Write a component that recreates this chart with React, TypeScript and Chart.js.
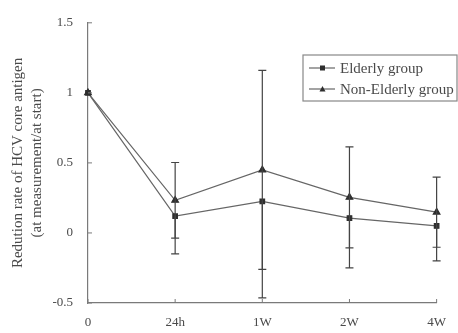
import React, { useEffect, useRef } from "react";
import { Chart, registerables } from "chart.js";

Chart.register(...registerables);

const categories = ["0", "24h", "1W", "2W", "4W"];
const elderly = [1, 0.12, 0.226, 0.106, 0.05];
const elderlyErr = [0, 0.27, 0.69, 0.355, 0.25];
const nonElderly = [1, 0.233, 0.45, 0.254, 0.148];
const nonElderlyErr = [0, 0.27, 0.71, 0.36, 0.25];
const yTicks = [-0.5, 0, 0.5, 1, 1.5];
const yTitle = ["Redution rate of HCV core antigen", "(at measurement/at start)"];
const legendLabels = ["Elderly group", "Non-Elderly group"];

const AXIS = "#7a7a7a";
const LINE = "#666";
const MARK = "#2e2e2e";
const TEXT = "#4a4a4a";
const FONT = "'Liberation Serif', 'DejaVu Serif', serif";

const errors = [elderlyErr, nonElderlyErr];
const showUpper = [false, true];
const showLower = [true, true];

const extrasPlugin = {
  id: "extras",
  afterDatasetsDraw(chart: any) {
    const ctx = chart.ctx;
    const xs = chart.scales.x;
    const ys = chart.scales.y;
    const area = chart.chartArea;
    ctx.save();
    // error bars
    ctx.strokeStyle = "#444";
    ctx.lineWidth = 1.2;
    chart.data.datasets.forEach((ds: any, di: number) => {
      ds.data.forEach((v: number, i: number) => {
        const e = errors[di][i];
        if (!e) return;
        const x = xs.getPixelForValue(i);
        const yc = ys.getPixelForValue(v);
        const yt = ys.getPixelForValue(v + e);
        const yb = ys.getPixelForValue(v - e);
        ctx.beginPath();
        if (showUpper[di]) {
          ctx.moveTo(x, yc);
          ctx.lineTo(x, yt);
          ctx.moveTo(x - 4, yt);
          ctx.lineTo(x + 4, yt);
        }
        if (showLower[di]) {
          ctx.moveTo(x, yc);
          ctx.lineTo(x, yb);
          ctx.moveTo(x - 4, yb);
          ctx.lineTo(x + 4, yb);
        }
        ctx.stroke();
      });
    });
    // inward ticks
    ctx.strokeStyle = AXIS;
    ctx.lineWidth = 1;
    yTicks.forEach((t) => {
      const y = ys.getPixelForValue(t);
      ctx.beginPath();
      ctx.moveTo(area.left, y);
      ctx.lineTo(area.left + 4, y);
      ctx.stroke();
    });
    categories.forEach((_, i) => {
      const x = xs.getPixelForValue(i);
      ctx.beginPath();
      ctx.moveTo(x, area.bottom);
      ctx.lineTo(x, area.bottom - 4);
      ctx.stroke();
    });
    // y title
    ctx.fillStyle = TEXT;
    ctx.font = `15px ${FONT}`;
    ctx.textAlign = "center";
    ctx.textBaseline = "middle";
    const cy = (area.top + area.bottom) / 2;
    const lx = [18, 37];
    yTitle.forEach((t, i) => {
      ctx.save();
      ctx.translate(lx[i], cy);
      ctx.rotate(-Math.PI / 2);
      ctx.fillText(t, 0, 0);
      ctx.restore();
    });
    // legend
    const bx = 303, by = 55, bw = 154, bh = 46;
    ctx.strokeStyle = "#888";
    ctx.lineWidth = 1.2;
    ctx.strokeRect(bx, by, bw, bh);
    ctx.textAlign = "left";
    ctx.font = `15px ${FONT}`;
    const rows = [by + 13, by + 34];
    const styles = ["rect", "triangle"];
    rows.forEach((ry, i) => {
      ctx.strokeStyle = LINE;
      ctx.lineWidth = 1.2;
      ctx.beginPath();
      ctx.moveTo(bx + 6, ry);
      ctx.lineTo(bx + 32, ry);
      ctx.stroke();
      ctx.fillStyle = MARK;
      if (styles[i] === "rect") {
        ctx.fillRect(bx + 17, ry - 2.5, 5, 5);
      } else {
        ctx.beginPath();
        ctx.moveTo(bx + 19.5, ry - 3);
        ctx.lineTo(bx + 22.5, ry + 2.5);
        ctx.lineTo(bx + 16.5, ry + 2.5);
        ctx.closePath();
        ctx.fill();
      }
      ctx.fillStyle = TEXT;
      ctx.fillText(legendLabels[i], bx + 37, ry + 1);
    });
    ctx.restore();
  },
};

export default function App() {
  const ref = useRef<HTMLCanvasElement>(null);
  useEffect(() => {
    document.body.style.margin = "0";
    const chart = new Chart(ref.current!, {
      type: "line",
      data: {
        labels: categories,
        datasets: [
          {
            label: legendLabels[0],
            data: elderly,
            borderColor: LINE,
            borderWidth: 1.2,
            pointStyle: "rect",
            pointRadius: 3.2,
            pointBackgroundColor: MARK,
            pointBorderColor: MARK,
            tension: 0,
          },
          {
            label: legendLabels[1],
            data: nonElderly,
            borderColor: LINE,
            borderWidth: 1.2,
            pointStyle: "triangle",
            pointRadius: 3.8,
            pointBackgroundColor: MARK,
            pointBorderColor: MARK,
            tension: 0,
          },
        ],
      },
      plugins: [extrasPlugin],
      options: {
        animation: false,
        responsive: false,
        maintainAspectRatio: false,
        layout: { padding: { top: 20, right: 11, left: 0, bottom: 0 } },
        plugins: { legend: { display: false }, tooltip: { enabled: false } },
        scales: {
          x: {
            offset: false,
            grid: { display: false, drawTicks: false },
            border: { display: true, color: AXIS, width: 1.2 },
            ticks: {
              color: TEXT,
              font: { family: FONT, size: 13 },
              padding: 12,
              maxRotation: 0,
            },
            afterFit: (s: any) => {
              s.height = 30;
            },
          },
          y: {
            min: -0.5,
            max: 1.5,
            grid: { display: false, drawTicks: false },
            border: { display: true, color: AXIS, width: 1.2 },
            afterBuildTicks: (s: any) => {
              s.ticks = yTicks.map((v) => ({ value: v }));
            },
            ticks: {
              color: TEXT,
              font: { family: FONT, size: 13 },
              padding: 15,
              callback: (v: any) => String(v),
            },
            afterFit: (s: any) => {
              s.width = 88;
            },
          },
        },
      },
    });
    return () => chart.destroy();
  }, []);
  return (
    <div style={{ position: "fixed", left: 0, top: 0, width: 458, height: 333, background: "#fff" }}>
      <canvas ref={ref} width={458} height={333} />
    </div>
  );
}
